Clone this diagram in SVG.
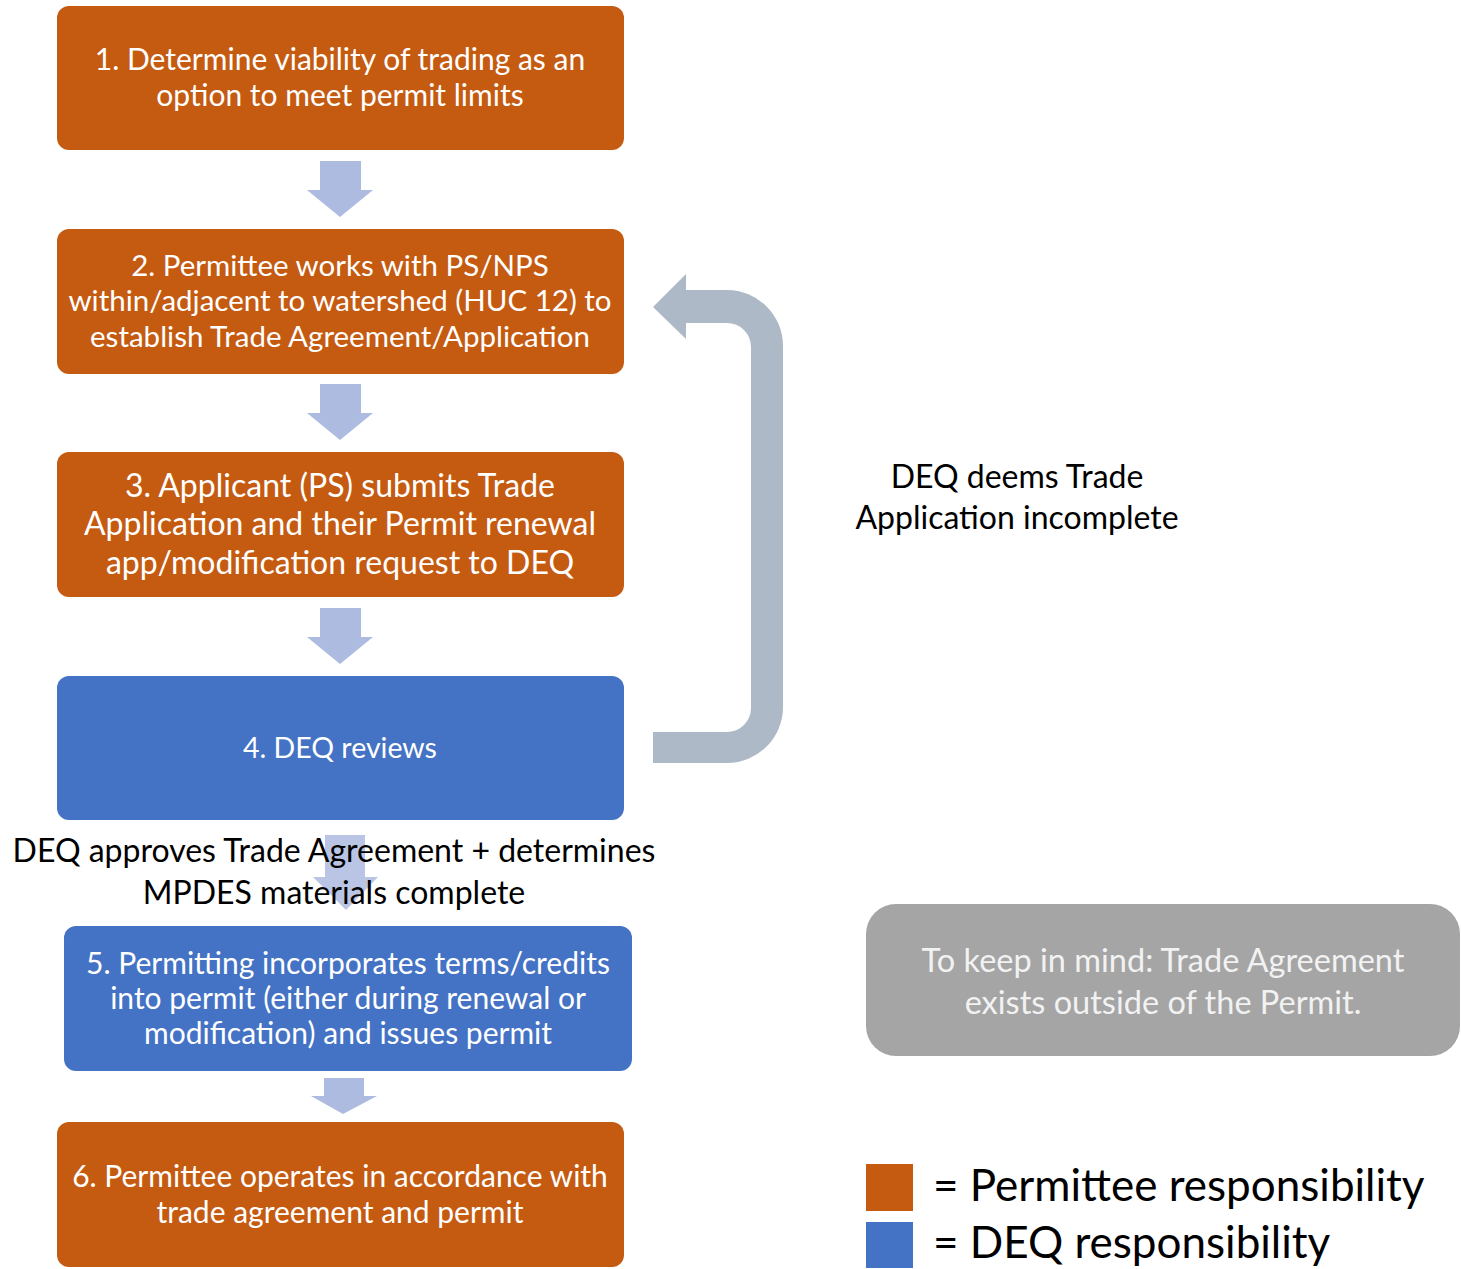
<svg xmlns="http://www.w3.org/2000/svg" width="1461" height="1269" viewBox="0 0 1461 1269">
<style>
.o{fill:#C55A11}
.b{fill:#4472C4}
.t{font-family:Lato,"Liberation Sans",sans-serif;fill:#fff;text-anchor:middle}
.k{font-family:Lato,"Liberation Sans",sans-serif;fill:#000;text-anchor:middle}
.da{fill:#AEBBE0}
</style>
<rect width="1461" height="1269" fill="#fff"/>
<g id="connectors">
<path class="da" d="M320 161H361V190H373L340 217L307 190H320Z"/>
<path class="da" d="M320 384H361V413H373L340 440L307 413H320Z"/>
<path class="da" d="M320 608H361V637H373L340 664L307 637H320Z"/>
<path class="da" d="M324 1078H364V1096H377L343 1114L311 1096H324Z"/>
<path fill="#ADB9C7" d="M653 732L727 732A24 24 0 0 0 751 708L751 347A24 24 0 0 0 727 323L686 323L686 339L653 307L686 274L686 290L727 290A56 56 0 0 1 783 346L783 707A56 56 0 0 1 727 763L653 763Z"/>
</g>
<g id="n1"><rect class="o" x="57" y="6" width="567" height="144" rx="12"/>
<text class="t" font-size="30"><tspan x="340" y="70">1. Determine viability of trading as an</tspan><tspan x="340" y="106">option to meet permit limits</tspan></text></g>
<g id="n2"><rect class="o" x="57" y="229" width="567" height="145" rx="12"/>
<text class="t" font-size="29.5"><tspan x="340" y="276">2. Permittee works with PS/NPS</tspan><tspan x="340" y="311">within/adjacent to watershed (HUC 12) to</tspan><tspan x="340" y="347">establish Trade Agreement/Application</tspan></text></g>
<g id="n3"><rect class="o" x="57" y="452" width="567" height="145" rx="12"/>
<text class="t" font-size="32"><tspan x="340" y="497">3. Applicant (PS) submits Trade</tspan><tspan x="340" y="535">Application and their Permit renewal</tspan><tspan x="340" y="574">app/modification request to DEQ</tspan></text></g>
<g id="n4"><rect class="b" x="57" y="676" width="567" height="144" rx="12"/>
<text class="t" font-size="28.5" x="340" y="758">4. DEQ reviews</text></g>
<g id="connectors2">
<path fill="#AEBBE0" fill-opacity="0.85" d="M325 835H365V877H378L346 910L313 877H325Z"/>
</g>
<g id="label-approve">
<text class="k" font-size="32"><tspan x="334" y="862">DEQ approves Trade Agreement + determines</tspan><tspan x="334" y="904">MPDES materials complete</tspan></text></g>
<g id="n5"><rect class="b" x="64" y="926" width="568" height="145" rx="12"/>
<text class="t" font-size="30"><tspan x="348" y="974">5. Permitting incorporates terms/credits</tspan><tspan x="348" y="1009">into permit (either during renewal or</tspan><tspan x="348" y="1044">modification) and issues permit</tspan></text></g>
<g id="n6"><rect class="o" x="57" y="1122" width="567" height="145" rx="12"/>
<text class="t" font-size="30"><tspan x="340" y="1187">6. Permittee operates in accordance with</tspan><tspan x="340" y="1223">trade agreement and permit</tspan></text></g>
<g id="label-incomplete">
<text class="k" font-size="32"><tspan x="1017" y="488">DEQ deems Trade</tspan><tspan x="1017" y="529">Application incomplete</tspan></text></g>
<g id="note"><rect x="866" y="904" width="594" height="152" rx="30" fill="#A5A5A5"/>
<text class="t" font-size="32.5" style="fill:#F2F2F2"><tspan x="1163" y="972">To keep in mind: Trade Agreement</tspan><tspan x="1163" y="1014">exists outside of the Permit.</tspan></text></g>
<g id="legend">
<rect class="o" x="866" y="1164" width="47" height="47"/>
<rect class="b" x="866" y="1222" width="47" height="46"/>
<text font-family="Lato,'Liberation Sans',sans-serif" font-size="44" fill="#000"><tspan x="933" y="1201">= Permittee responsibility</tspan><tspan x="933" y="1258">= DEQ responsibility</tspan></text>
</g>
</svg>
